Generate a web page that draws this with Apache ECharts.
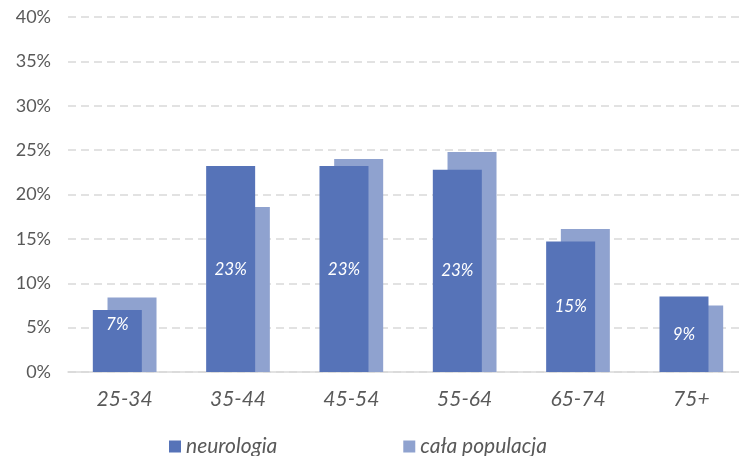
<!DOCTYPE html>
<html>
<head>
<meta charset="utf-8">
<script src="https://cdn.jsdelivr.net/npm/echarts@6/dist/echarts.min.js"></script>
<style>
    html, body { margin: 0; padding: 0; background: #FFFFFF; overflow: hidden; }
    #chart { width: 748px; height: 456px; }
</style>
</head>
<body>
<div id="chart"></div>
<script>
var categories = ['25-34', '35-44', '45-54', '55-64', '65-74', '75+'];
var neurologia = [7.0, 23.2, 23.2, 22.8, 14.7, 8.5];
var populacja = [8.4, 18.6, 24.0, 24.8, 16.1, 7.5];
var neuroLabels = ['7%', '23%', '23%', '23%', '15%', '9%'];

var myChart = echarts.init(document.getElementById('chart'));

function getNeuroData() {
    var arr = [];
    for (var i = 0; i < neurologia.length; i++) {
        var lbl = { formatter: neuroLabels[i] };
        // the first label sits near the top of its short bar
        if (i === 0) {
            lbl.position = 'insideTop';
            lbl.distance = 6;
        }
        arr.push({ value: neurologia[i], label: lbl });
    }
    return arr;
}

var option = {
    backgroundColor: '#FFFFFF',
    animation: false,
    textStyle: { fontFamily: 'Lato' },
    grid: {
        left: 68,
        right: 0,
        top: 17,
        height: 355
    },
    legend: {
        top: 431,
        left: 164,
        itemWidth: 12,
        itemHeight: 12,
        itemGap: 126,
        icon: 'rect',
        textStyle: {
            fontSize: 21,
            fontStyle: 'italic',
            color: '#595959',
            fontFamily: 'Lato'
        },
        data: ['neurologia', 'cała populacja']
    },
    xAxis: {
        type: 'category',
        data: categories,
        axisTick: { show: false },
        axisLine: { lineStyle: { color: '#D9D9D9', width: 1.5 } },
        axisLabel: {
            fontSize: 21,
            fontStyle: 'italic',
            color: '#595959',
            margin: 17
        }
    },
    yAxis: {
        type: 'value',
        min: 0,
        max: 40,
        interval: 5,
        axisLine: { show: false },
        axisTick: { show: false },
        axisLabel: {
            formatter: '{value}%',
            fontSize: 18,
            color: '#595959',
            margin: 17
        },
        splitLine: {
            lineStyle: { color: '#D9D9D9', type: [8, 5], width: 1.5 }
        }
    },
    series: [
        {
            name: 'neurologia',
            type: 'bar',
            data: getNeuroData(),
            barWidth: 49,
            barGap: '-70%',
            itemStyle: { color: '#5673B8' },
            label: {
                show: true,
                position: 'inside',
                color: '#FFFFFF',
                fontSize: 17,
                fontStyle: 'italic',
                fontFamily: 'Lato'
            },
            z: 3
        },
        {
            name: 'cała populacja',
            type: 'bar',
            data: populacja,
            barWidth: 49,
            barGap: '-70%',
            itemStyle: { color: '#8FA2CF' },
            z: 2
        }
    ]
};
myChart.setOption(option);
</script>
</body>
</html>
